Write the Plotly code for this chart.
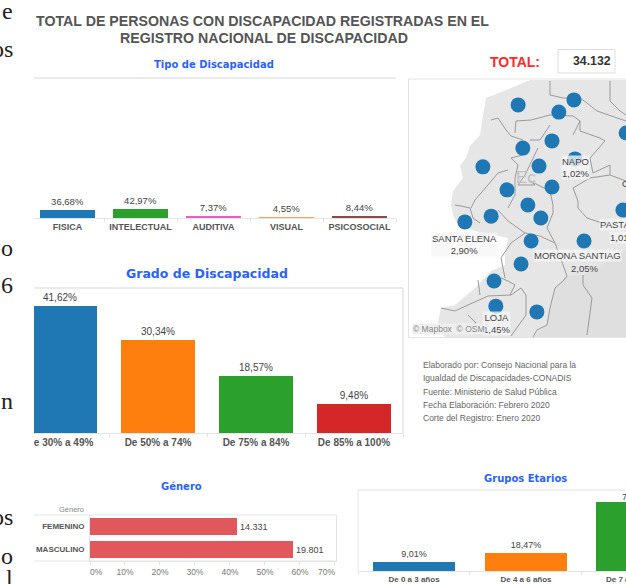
import plotly.graph_objects as go

W, H = 626, 584

# ---------- data ----------
tipo_cat = ["FISICA", "INTELECTUAL", "AUDITIVA", "VISUAL", "PSICOSOCIAL"]
tipo_val = [36.68, 42.97, 7.37, 4.55, 8.44]
tipo_col = ["#1F77B4", "#2CA02C", "#E85FC4", "#F7A25C", "#8C4A4A"]

grado_cat = ["De 30% a 49%", "De 50% a 74%", "De 75% a 84%", "De 85% a 100%"]
grado_val = [41.62, 30.34, 18.57, 9.48]
grado_col = ["#1F77B4", "#FF7F0E", "#2CA02C", "#D62728"]

genero_cat = ["FEMENINO", "MASCULINO"]
genero_n = [14331, 19801]
total_n = 34132
genero_ticks = [0, 10, 20, 30, 40, 50, 60, 70]

etario_cat = ["De 0 a 3 años", "De 4 a 6 años", "De 7 a"]
etario_val = [9.01, 18.47, 72.52]
etario_col = ["#1F77B4", "#FF7F0E", "#2CA02C"]

map_lon = [-78.94, -77.81, -77.39, -75.94, -78.81, -78.00, -77.36, -79.92, -78.36, -78.00, -79.25,
           -78.67, -79.69, -78.31, -80.42, -76.03, -78.58, -77.11, -78.86, -79.61, -79.56, -78.42]
map_lat = [1.28, 1.08, 1.42, 0.50, 0.08, 0.28, -0.22, -0.44, -0.42, -1.00, -1.08,
           -1.50, -1.81, -1.86, -1.97, -1.64, -2.50, -2.50, -3.14, -3.61, -4.31, -4.47]

notes = ["Elaborado por: Consejo Nacional para la",
         "Igualdad de Discapacidades-CONADIS",
         "Fuente: Ministerio de Salud Pública",
         "Fecha Elaboración: Febrero 2020",
         "Corte del Registro: Enero 2020"]

# basemap outlines
land = [(530,80),(511,88),(486,98),(483,115),(480,135),(470,146),(466,158),(460,166),(463,178),(453,191),
        (451,205),(453,215),(458,225),(475,231),(508,238),(505,255),(505,265),(491,271),(475,288),(455,305),
        (441,308),(438,322),(445,337),(626,337),(626,80)]
peru = [(626,250),(583,275),(567,276),(555,288),(550,308),(547,325),(533,337),(626,337)]
borders = [
    [(491,120),(498,118),(506,130),(511,136),(523,140)],
    [(515,133),(516,121),(531,120),(550,115),(573,116),(580,121),(573,135)],
    [(550,81),(550,95),(563,98),(580,98),(587,103),(597,111),(626,121)],
    [(580,121),(580,131),(600,138),(605,141),(590,158),(593,173),(610,165),(610,175),(590,178),(573,188),(578,201),(578,208),(587,218),(602,223)],
    [(610,81),(610,101),(620,111),(626,115)],
    [(610,175),(626,181)],
    [(508,170),(498,173),(488,185),(475,200),(471,208)],
    [(523,155),(511,158),(518,165),(515,178),(515,195),(508,208)],
    [(538,148),(525,175),(518,185),(535,185),(530,181),(550,191),(553,205),(553,213),(547,228),(555,243),(567,276),(563,281),(555,288),(550,308),(547,325),(537,330),(533,337)],
    [(583,275),(583,285),(592,298),(587,335)],
    [(441,308),(455,311),(468,305),(488,296),(511,295),(521,288),(526,295),(526,315),(511,336)],
    [(478,280),(480,295)],
    [(501,278),(508,281),(515,285),(510,295)],
    [(468,315),(476,323),(470,328)],
    [(498,210),(508,221),(525,233),(511,243),(501,258),(505,278)],
    [(455,205),(461,206),(470,208),(473,218),(480,223)],
    [(530,140),(540,140),(550,125)],
    [(525,233),(540,236),(555,243)],
]

# ---------- helpers ----------
def X(p): return p / W
def Y(p): return 1 - p / H
def pct(v): return f"{v:.2f}%".replace(".", ",")
def miles(v): return f"{v:,}".replace(",", ".")

GREY = "#555555"
FRAME = "#E4E4E4"
BLUE = "#2962FF"
SANS = "Liberation Sans"
VERD = "DejaVu Sans"

fig = go.Figure()
shapes, ann = [], []

def text(px, py, t, size=10, color=GREY, anchor="center", family=SANS, weight=400, **kw):
    ann.append(dict(xref="paper", yref="paper", x=X(px), y=Y(py), text=t, showarrow=False,
                    xanchor=anchor, yanchor="middle", borderpad=0,
                    font=dict(family=family, size=size, color=color, weight=weight), **kw))

def line(x0, y0, x1, y1, color=FRAME, width=1, layer="below"):
    shapes.append(dict(type="line", xref="paper", yref="paper", x0=X(x0), x1=X(x1), y0=Y(y0), y1=Y(y1),
                       line=dict(color=color, width=width), layer=layer))

def path(pts, closed=False):
    d = "M" + " L".join(f"{X(a):.5f},{Y(b):.5f}" for a, b in pts)
    return d + (" Z" if closed else "")

def bars(n, cats, vals, cols, left, right, top, bottom, xmax, ymax, width, tfs, lfs, labels=None):
    xa, ya = ("x" if n == 1 else f"x{n}"), ("y" if n == 1 else f"y{n}")
    fig.add_trace(go.Bar(x=cats, y=vals, xaxis=xa, yaxis=ya, width=width,
                         marker=dict(color=cols, line=dict(width=0)),
                         text=labels if labels else [pct(v) for v in vals],
                         textposition="outside", cliponaxis=False,
                         textfont=dict(family=SANS, size=lfs, color="#444444"), showlegend=False,
                         hoverinfo="skip"))
    fig.update_layout({
        f"xaxis{'' if n == 1 else n}": dict(domain=[X(left), X(right)], anchor=ya, type="category",
            categoryorder="array", categoryarray=cats, range=[-0.5, xmax], fixedrange=True, tickangle=0,
            showgrid=False, showline=True, linecolor=FRAME, tickson="boundaries", ticks="outside",
            ticklen=3, tickcolor=FRAME, tickfont=dict(family=SANS, size=tfs, color=GREY, weight=700)),
        f"yaxis{'' if n == 1 else n}": dict(domain=[Y(bottom), Y(top)], anchor=xa, range=[0, ymax],
            visible=False, fixedrange=True),
    })

# ---------- basemap ----------
shapes.append(dict(type="rect", xref="paper", yref="paper", x0=X(408.5), x1=X(627), y0=Y(337.5), y1=Y(79),
                   fillcolor="white", line=dict(color=FRAME, width=1), layer="below"))
shapes.append(dict(type="path", xref="paper", yref="paper", path=path(land, True), fillcolor="#E6E6E6",
                   line=dict(width=0), layer="below"))
shapes.append(dict(type="path", xref="paper", yref="paper", path=path(peru, True), fillcolor="#DFDFDF",
                   line=dict(width=0), layer="below"))
for b in borders:
    shapes.append(dict(type="path", xref="paper", yref="paper", path=path(b),
                       line=dict(color="#9A9A9A", width=1), layer="below"))

# ---------- bar charts ----------
bars(1, tipo_cat, tipo_val, tipo_col, 31, 396, 78, 218, 4.5, 660, 0.753, 9, 9.5)
bars(2, grado_cat, grado_val, grado_col, 11, 403, 288, 433, 3.5, 47.5, 0.755, 10, 10)
bars(4, etario_cat, etario_val, etario_col, 358, 626, 490, 571, 1.893, 85, 0.741, 8, 9,
     labels=[pct(v) for v in etario_val[:2]] + [""])

# Género
gen_pct = [v / total_n * 100 for v in genero_n]
fig.add_trace(go.Bar(y=genero_cat, x=gen_pct, orientation="h", xaxis="x3", yaxis="y3", width=0.74,
                     marker=dict(color="#E1575B", line=dict(width=0)),
                     text=[miles(v) for v in genero_n], textposition="outside", cliponaxis=False,
                     textfont=dict(family=SANS, size=9, color="#444444"), showlegend=False, hoverinfo="skip"))
fig.update_layout(
    xaxis3=dict(domain=[X(90), X(336.5)], anchor="y3", range=[0, 70.45], fixedrange=True, showgrid=False,
                tickvals=genero_ticks, ticktext=["", "10%", "20%", "30%", "40%", "50%", "60%", ""],
                ticks="outside", ticklen=3, tickcolor=FRAME, showline=True, linecolor=FRAME, zeroline=False,
                tickfont=dict(family=SANS, size=8.5, color="#777777")),
    yaxis3=dict(domain=[Y(561), Y(515)], anchor="x3", type="category", categoryorder="array",
                categoryarray=genero_cat, autorange=False, range=[1.5, -0.5], fixedrange=True,
                showgrid=False, showline=True, linecolor=FRAME, ticks="outside", ticklen=3,
                tickcolor="rgba(0,0,0,0)", tickfont=dict(family=SANS, size=8, color=GREY, weight=700)),
)

# ---------- map points ----------
fig.add_trace(go.Scatter(x=map_lon, y=map_lat, mode="markers", xaxis="x5", yaxis="y5", showlegend=False,
                         hoverinfo="skip", marker=dict(size=15, color="#1F77B4", line=dict(width=0))))
fig.update_layout(
    xaxis5=dict(domain=[X(408), X(626)], anchor="y5", range=[-82, -75.944], visible=False, fixedrange=True),
    yaxis5=dict(domain=[Y(337), Y(79)], anchor="x5", range=[-5.167, 2], visible=False, fixedrange=True),
)

# ---------- frames ----------
line(34, 78, 396, 78, width=1.5)
line(34, 288, 403, 288, width=1.5)
line(403, 288, 403, 433, width=1.5)
line(358, 490, 626, 490)
line(358, 490, 358, 571)
line(34, 515, 336.5, 515)
line(34, 561, 336.5, 561)
line(336.5, 515, 336.5, 561)

# white strip that cuts the charts at the left, as in the reference
shapes.append(dict(type="rect", xref="paper", yref="paper", x0=0, x1=X(34), y0=0, y1=1,
                   fillcolor="white", line=dict(width=0), layer="above"))

# ---------- texts ----------
text(262.5, 21, "TOTAL DE PERSONAS CON DISCAPACIDAD REGISTRADAS EN EL", 14.2, "#555555", weight=700)
text(264, 38, "REGISTRO NACIONAL DE DISCAPACIDAD", 14.2, "#555555", weight=700)
text(214, 64, "Tipo de Discapacidad", 10, BLUE, family=VERD, weight=700)
text(207, 273, "Grado de Discapacidad", 12.5, BLUE, family=VERD, weight=700)
text(181, 486, "Género", 10, BLUE, family=VERD, weight=700)
text(525, 478, "Grupos Etarios", 10, BLUE, family=VERD, weight=700)

text(515, 62, "TOTAL:", 14, "#FF2A2A", weight=700)
shapes.append(dict(type="rect", xref="paper", yref="paper", x0=X(558), x1=X(615), y0=Y(73), y1=Y(49.5),
                   fillcolor="white", line=dict(color="#DDDDDD", width=1), layer="below"))
text(592, 61, miles(total_n), 12.3, "#333333", weight=700)

# Género axis helpers
text(85, 509, "Género", 7.5, "#888888", anchor="right")
text(97, 572, f"{genero_ticks[0]}%", 8.5, "#777777")
text(326, 572, f"{genero_ticks[-1]}%", 8.5, "#777777")

# the third age group is cut by the page edge: only its visible part is written
text(621, 497, "7", 9, "#444444", anchor="left")
text(605, 579, etario_cat[2], 8, GREY, anchor="left", weight=700)

# map labels
LBL = "rgba(245,245,245,0.75)"
text(526, 177, "Ec", 17, "#C0C0C0")
text(575, 167, "NAPO<br>1,02%", 9.5, "#444444", bgcolor="rgba(245,245,245,0.8)")
text(464, 244, "SANTA ELENA<br>2,90%", 9.5, "#444444", bgcolor=LBL)
text(533, 255, "MORONA SANTIAG", 9.5, "#444444", anchor="left", bgcolor=LBL)
text(584, 268, "2,05%", 9.5, "#444444")
text(599, 225, "PASTA", 9.5, "#444444", anchor="left", bgcolor=LBL)
text(609, 237, "1,01", 9.5, "#444444", anchor="left", bgcolor=LBL)
text(621, 183, "O", 9.5, "#444444", anchor="left")
text(496, 323, "LOJA<br>1,45%", 9.5, "#444444", bgcolor=LBL)
text(412, 329, "© Mapbox  © OSM", 8.5, "#888888", anchor="left", bgcolor="rgba(238,238,238,0.95)")

for i, t in enumerate(notes):
    text(422, [365, 378, 392, 405, 418][i], t, 8.5, "#666666", anchor="left")

# fragments of the surrounding document's text at the left edge
for s, py in [("e", 11), ("os", 49), ("o", 248), ("6", 285), ("n", 401), ("os", 517), ("o", 556), ("l", 578)]:
    text(14, py, s, 24, "#222222", anchor="right", family="Liberation Serif")

fig.update_layout(width=W, height=H, autosize=False, margin=dict(l=0, r=0, t=0, b=0, pad=0),
                  paper_bgcolor="white", plot_bgcolor="rgba(0,0,0,0)", shapes=shapes, annotations=ann,
                  bargap=0, showlegend=False)

fig.write_html("out.html", config=dict(displayModeBar=False),
               post_script="document.body.style.margin='0';document.documentElement.style.overflow='hidden';document.body.style.overflow='hidden';")
